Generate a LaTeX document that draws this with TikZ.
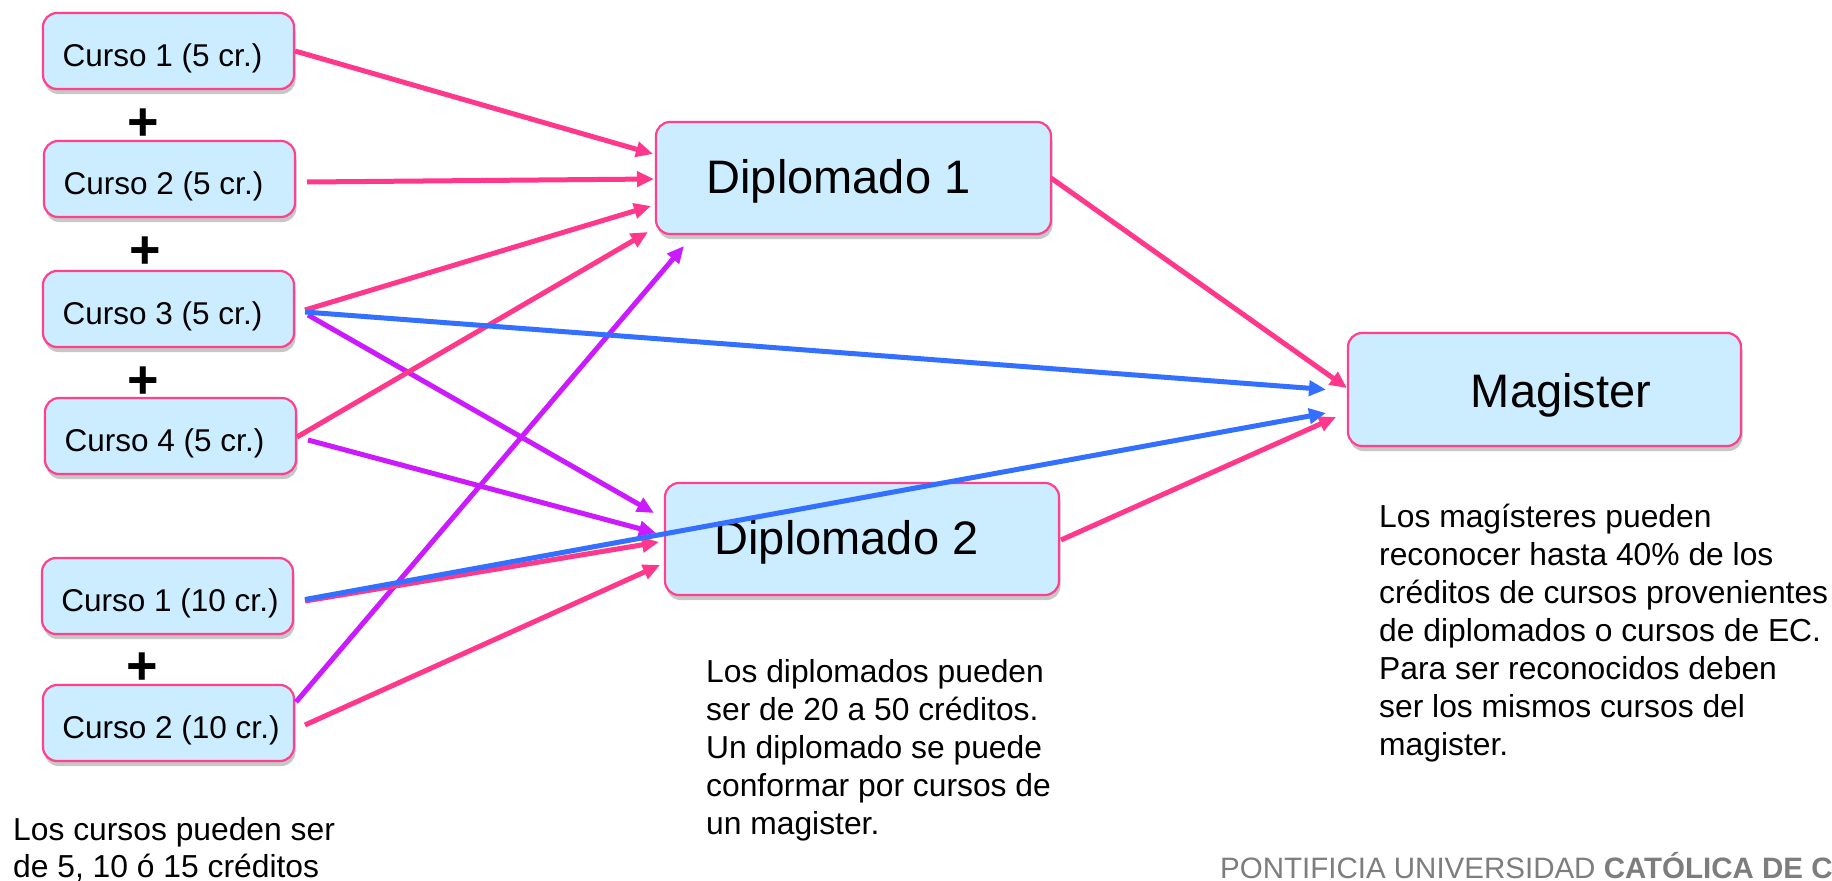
\documentclass[tikz,border=0pt]{standalone}
\usepackage{fontspec}
\setmainfont{Liberation Sans}
\usetikzlibrary{arrows.meta,shadows}
\definecolor{lnpink}{RGB}{255,56,140}
\definecolor{bdpink}{RGB}{255,64,140}
\definecolor{boxfill}{RGB}{204,236,255}
\definecolor{lnblue}{RGB}{51,112,255}
\definecolor{lnpurple}{RGB}{204,26,255}
\definecolor{footgray}{RGB}{125,125,125}
\begin{document}
\begin{tikzpicture}[x=1pt,y=-1pt,
  box/.style={draw=bdpink, line width=2.2pt, fill=boxfill, rounded corners=14pt,
    anchor=north west, inner sep=0pt, outer sep=0pt,
    drop shadow={shadow xshift=1.5pt,shadow yshift=-5pt,opacity=0.4,fill=black!55}},
  cbox/.style={box, minimum width=251pt, minimum height=76pt,
    font=\fontsize{31.5}{38}\selectfont, text height=30pt, text depth=0pt},
  dbox/.style={box, minimum width=395pt, minimum height=112pt,
    font=\fontsize{47}{52}\selectfont, text height=31pt, text depth=0pt},
  mbox/.style={box, minimum width=393pt, minimum height=113pt,
    font=\fontsize{47}{52}\selectfont, text height=35pt, text depth=0pt},
  plusmark/.style={inner sep=0pt, font=\fontsize{54}{60}\selectfont\bfseries},
  desc/.style={inner sep=0pt, anchor=base west, font=\fontsize{31.8}{38}\selectfont},
  arr/.style={line width=5pt, -{Triangle[length=17pt,width=15pt]}},
  pinkarr/.style={arr, draw=lnpink, fill=lnpink},
  bluearr/.style={arr, draw=lnblue, fill=lnblue},
  purplearr/.style={arr, draw=lnpurple, fill=lnpurple}]

\fill[white] (0,0) rectangle (1832,881);
\useasboundingbox (0,0) rectangle (1832,881);

% course boxes
\node[cbox] (c1) at (43,13)  {Curso 1 (5 cr.)\hspace*{12pt}};
\node[cbox] (c2) at (44,141) {Curso 2 (5 cr.)\hspace*{12pt}};
\node[cbox] (c3) at (43,271) {Curso 3 (5 cr.)\hspace*{12pt}};
\node[cbox] (c4) at (45,398) {Curso 4 (5 cr.)\hspace*{12pt}};
\node[cbox] (c5) at (42,558) {\hspace*{5pt}Curso 1 (10 cr.)};
\node[cbox] (c6) at (43,685) {\hspace*{5pt}Curso 2 (10 cr.)};

\node[plusmark] (p1) at (143.5,124.5) {+};
\node[plusmark] (p2) at (145,252.5) {+};
\node[plusmark] (p3) at (143,382.5) {+};
\node[plusmark] (p4) at (142,668.5) {+};

% diplomado and magister boxes
\node[dbox] (d1) at (656,122) {Diplomado 1\hspace*{30pt}};
\node[dbox, minimum width=394pt] (d2) at (665,483) {Diplomado 2\hspace*{31pt}};
\node[mbox] (m) at (1348,333) {\hspace*{33pt}Magister};

% descriptions
\node[desc, font=\fontsize{31.8}{37}\selectfont] (dc) at (13,840)
  {\vtop{\hbox{Los cursos pueden ser}\hbox{de 5, 10 ó 15 créditos}}};
\node[desc] (dd) at (706,682)
  {\vtop{\hbox{Los diplomados pueden}\hbox{ser de 20 a 50 créditos.}\hbox{Un diplomado se puede}\hbox{conformar por cursos de}\hbox{un magister.}}};
\node[desc] (dm) at (1379,527)
  {\vtop{\hbox{Los magísteres pueden}\hbox{reconocer hasta 40\% de los}\hbox{créditos de cursos provenientes}\hbox{de diplomados o cursos de EC.}\hbox{Para ser reconocidos deben}\hbox{ser los mismos cursos del}\hbox{magister.}}};

% footer
\node[inner sep=0pt, anchor=base west, text=footgray, font=\fontsize{29.5}{32}\selectfont] (foot) at (1220,878)
  {PONTIFICIA UNIVERSIDAD \textbf{CATÓLICA DE C}};

% purple arrows
\draw[purplearr] ([xshift=14pt,yshift=-6pt]c3.east) -- ([xshift=-11pt,yshift=26pt]d2.west);
\draw[purplearr] ([xshift=12pt,yshift=-4pt]c4.east) -- ([xshift=-9pt,yshift=6pt]d2.west);
\draw[purplearr] ([xshift=2pt,yshift=21pt]c6.east) -- ([xshift=28pt,yshift=-12pt]d1.south west);

% pink arrows into Diplomado 1
\draw[pinkarr] ([xshift=1pt]c1.east) -- ([xshift=-3pt,yshift=24pt]d1.west);
\draw[pinkarr] ([xshift=12pt,yshift=-3pt]c2.east) -- ([xshift=-2pt,yshift=-1pt]d1.west);
\draw[pinkarr] ([xshift=11pt,yshift=-1pt]c3.east) -- ([xshift=-5pt,yshift=-28pt]d1.west);
\draw[pinkarr] ([xshift=1pt,yshift=-1pt]c4.east) -- ([xshift=-8pt,yshift=-54pt]d1.west);

% pink arrows into Diplomado 2
\draw[pinkarr] ([xshift=12pt,yshift=-5pt]c5.east) -- ([xshift=-6pt,yshift=-3pt]d2.west);
\draw[pinkarr] ([xshift=11pt,yshift=-2pt]c6.east) -- ([xshift=-5pt,yshift=-26pt]d2.west);

% pink arrows into Magister
\draw[pinkarr] (d1.east) -- ([xshift=-1pt,yshift=1.5pt]m.west);
\draw[pinkarr] ([xshift=2pt,yshift=-1pt]d2.east) -- ([xshift=-12pt,yshift=-27.5pt]m.west);

% blue arrows into Magister
\draw[bluearr] ([xshift=11pt,yshift=-3pt]c3.east) -- ([xshift=-22pt]m.west);
\draw[bluearr] ([xshift=12pt,yshift=-3.5pt]c5.east) -- ([xshift=-22pt,yshift=-23.5pt]m.west);

\end{tikzpicture}
\end{document}
